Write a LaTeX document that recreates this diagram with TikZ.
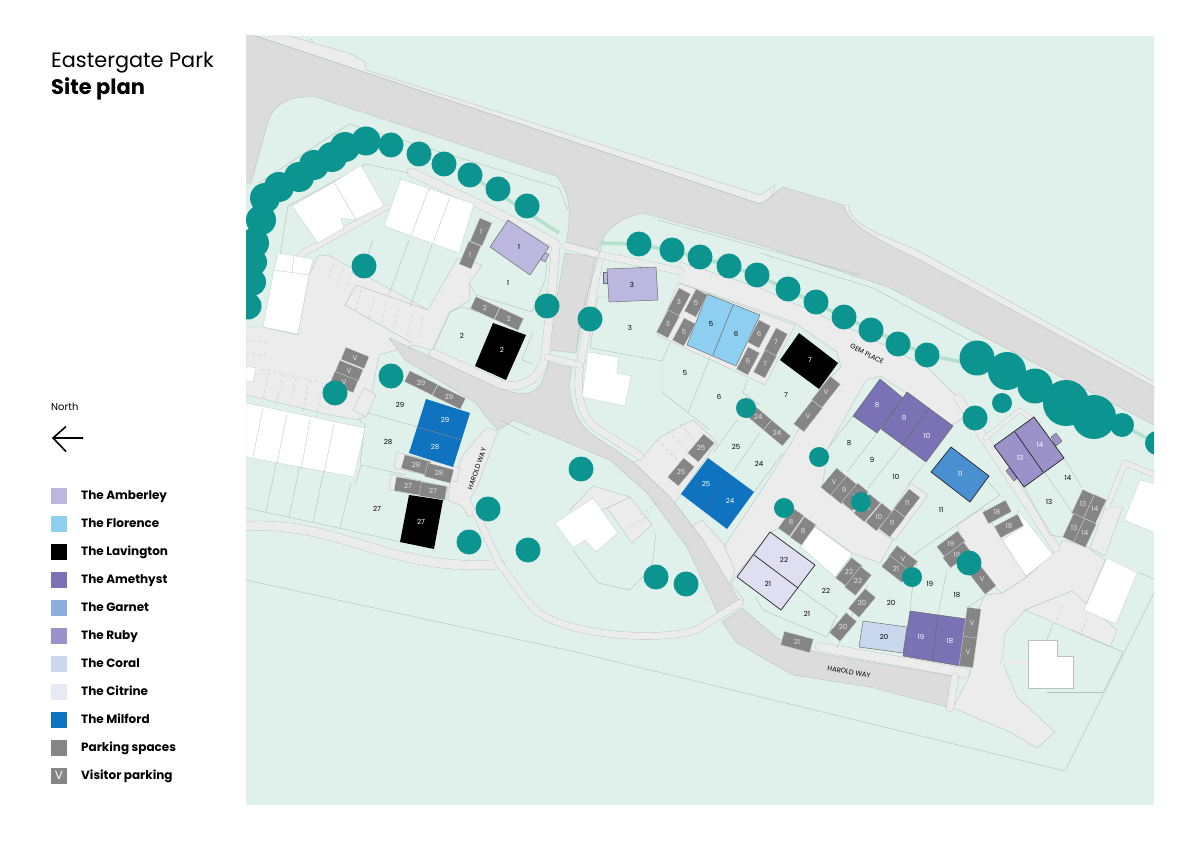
\documentclass[tikz,border=0pt]{standalone}
\usepackage{fontspec}
\setmainfont{Poppins}
\definecolor{mapg}{HTML}{E0F0EA}
\definecolor{pale}{HTML}{ECECEC}
\definecolor{roadg}{HTML}{DCDCDC}
\definecolor{edgeg}{HTML}{B6C2BD}
\definecolor{treeg}{HTML}{0C9490}
\definecolor{pathg}{HTML}{B5E0CF}
\definecolor{bayg}{HTML}{858585}
\definecolor{amber}{HTML}{BCB7DE}
\definecolor{flor}{HTML}{8ECFF1}
\definecolor{ameth}{HTML}{7B72B6}
\definecolor{garn}{HTML}{4A8FD0}
\definecolor{garnl}{HTML}{8CAEDC}
\definecolor{ruby}{HTML}{9A92C9}
\definecolor{coral}{HTML}{C9D8EF}
\definecolor{citr}{HTML}{E0DFF2}
\definecolor{citrl}{HTML}{E9E9F5}
\definecolor{milf}{HTML}{0F73BF}
\tikzset{
 x=1pt,y=-1pt,
 paved/.style={fill=pale,draw=edgeg,line width=.35pt,line join=round},
 road/.style={fill=roadg,draw=edgeg,line width=.35pt,line join=round},
 band/.style={double=pale,double distance=#1,draw=edgeg,line width=.35pt,line join=round,line cap=round},
 plotline/.style={draw=edgeg,line width=.45pt,line join=round},
 house/.style={fill=white,draw=edgeg,line width=.2pt,line join=round},
 unit/.style={draw=black!60,line width=.45pt,line join=round},
 unitdark/.style={draw=black!85,line width=.7pt,line join=round},
 tree/.style={fill=treeg},
 plotnum/.style={font=\fontsize{7}{8}\selectfont,text=black,inner sep=0pt},
 unitw/.style={font=\fontsize{7}{8}\selectfont,text=white,inner sep=0pt},
 baynum/.style={font=\fontsize{7}{8}\selectfont,text=white!90!black,inner sep=0pt},
 legendtxt/.style={font=\fontsize{12}{14}\selectfont\bfseries,anchor=base west,inner sep=0pt},
 roadname/.style={font=\fontsize{6.8}{8}\selectfont,text=black,inner sep=0pt},
 parkdash/.style={draw=edgeg,line width=.3pt,dashed},
}
\newcommand\bay[6]{%
 \fill[bayg,draw=white!70!bayg,line width=.3pt,shift={(#1,#2)},rotate=#3] (-#4/2,-#5/2) rectangle (#4/2,#5/2);
 \node[baynum] at (#1,#2) {#6};}
\newcommand\trees[1]{\foreach \tx/\ty/\tr in {#1}{\fill[tree] (\tx,\ty) circle (\tr);}}
\newcommand\nums[2]{\foreach \tx/\ty/\tn in {#2}{\node[#1] at (\tx,\ty) {\tn};}}
\newcommand\legend[3]{\fill[#1] (51,#2-8) rectangle (67,#2+8); \node[legendtxt] at (81,#2+4.4) {#3};}
\begin{document}
\begin{tikzpicture}
\useasboundingbox (0,0) rectangle (1191,842);
\fill[white] (0,0) rectangle (1191,842);
\begin{scope}
\clip (246,36) rectangle (1154,805);
\fill[mapg] (246,36) rectangle (1154,805);
% paved areas
\path[paved] (246,327) -- (263,327) -- (298,335) -- (309,275) -- (318,256) -- (328,255) -- (428,310) -- (449,273) -- (458,258) -- (482,265) -- (469,283) -- (470,300) -- (450,312) -- (432,350) -- (414,345) -- (379,355) -- (368,413) -- (359,420) -- (330,415) -- (246,395) -- cycle;
\path[paved] (678,283) -- (795,325) -- (765,385) -- (737,372) -- (657,335) -- cycle;
\path[paved] (680,262) -- (760,288) -- (860,333) -- (927,367) -- (955,395) -- (968,415) -- (952,425) -- (905,392) -- (880,376) -- (866,380) -- (828,448) -- (822,488) -- (877,530) -- (893,540) -- (880,563) -- (852,553) -- (800,515) -- (770,533) -- (740,570) -- (730,585) -- (725,545) -- (765,485) -- (790,445) -- (823,385) -- (841,367) -- (837,352) -- (793,322) -- (680,283) -- cycle;
\path[paved] (640,460) -- (660,437) -- (693,420) -- (717,442) -- (681,494) -- (673,505) -- (682,512) -- (690,527) -- (702,520) -- (723,543) -- (735,570) -- (730,583) -- (744,600) -- (735,608) -- (703,540) -- (670,497) -- (633,462) -- cycle;
\path[paved] (910,483) -- (928,495) -- (895,540) -- (880,530) -- cycle;
\path[paved] (1053,553) -- (1027,577) -- (1002,593) -- (985,595) -- (976,615) -- (970,675) -- (953,708) -- (1010,732) -- (1037,748) -- (1055,732) -- (1017,697) -- (1002,660) -- (1005,633) -- (1025,610) -- (1072,591) -- (1083,612) -- (1105,560) -- (1087,547) -- (1063,540) -- cycle;
\path[paved] (1025,610) -- (1072,591) -- (1117,630) -- (1110,647) -- cycle;
\path[paved] (1090,548) -- (1105,507) -- (1123,507) -- (1105,556) -- cycle;
\path[paved] (957,525) -- (983,508) -- (1002,540) -- (1027,577) -- (1002,593) -- (972,570) -- cycle;
\path[paved] (486,428) -- (498,431) -- (476,490) -- (470,498) -- (476,513) -- (468,517) -- (462,506) -- (448,500) -- (449,490) -- (453,470) -- (458,468) -- (463,455) -- cycle;
\path[paved] (397,452) -- (394,468) -- (457,482) -- (460,468) -- cycle;
\path[paved] (391,474) -- (389,490) -- (446,500) -- (448,487) -- cycle;
\path[paved] (607,508) -- (630,497) -- (652,525) -- (632,543) -- cycle;
\path[paved] (570,510) -- (593,486) -- (630,497) -- (607,508) -- (596,512) -- (570,530) -- cycle;
\path[paved] (353,410) -- (364,388) -- (376,395) -- (366,417) -- cycle;
% upper footway
\fill[pale,draw=edgeg,line width=.35pt,line join=round] (256,36) -- (760,204) .. controls (770,200) and (775,193) .. (775,185) -- (760,195) -- (366,70) -- (365,62) -- (349,53) -- (313,43) -- (290,36) -- cycle;
\fill[pale,draw=edgeg,line width=.35pt,line join=round] (843,205) -- (848,205) .. controls (852,222) and (862,228) .. (917,250) -- (1160,385) -- (1160,395) -- (920,262) .. controls (870,240) and (855,232) .. (843,205) -- cycle;
% roads
\path[road] (240,30) -- (256,36) -- (760,204) .. controls (768,200) and (775,193) .. (783,187) -- (843,205) .. controls (850,222) and (860,232) .. (920,260) -- (1160,390) -- (1160,428) -- (888,287) -- (760,245) -- (643,213) .. controls (620,218) and (605,228) .. (598,250) -- (566,242) .. controls (572,215) and (570,190) .. (556,176) -- (316,97) -- (306,97) .. controls (285,97) and (272,108) .. (268,122) -- (251,183) -- (240,183) -- cycle;
\path[road] (565,253) -- (595,257) -- (576,353) -- (547,350) -- cycle;
\path[road] (389,338) -- (486,382) .. controls (505,392) and (530,400) .. (540,385) .. controls (545,375) and (547,370) .. (548,362) -- (572,368) .. controls (565,395) and (575,420) .. (590,433) -- (633,462) -- (670,497) -- (703,540) -- (740,602) -- (720,618) -- (687,547) -- (647,493) -- (610,460) -- (576,446) -- (513,420) .. controls (508,425) and (502,428) .. (498,430) -- (486,417) -- (476,403) -- (405,360) -- cycle;
\path[road] (722,622) -- (742,608) -- (777,638) -- (818,653) -- (952,676) -- (947,707) -- (870,687) -- (793,675) -- (737,643) -- cycle;
% bands
\draw[band=8pt] (411,172) -- (479,204) -- (529,229) -- (556,244) .. controls (552,290) and (549,320) .. (545,357) .. controls (541,380) and (520,390) .. (500,384) -- (433,353);
\draw[band=9pt] (246,526) .. controls (290,524) and (320,532) .. (379,550) .. controls (420,562) and (460,568) .. (500,564);
\draw[band=6.5pt] (476,513) -- (499,563) .. controls (520,590) and (530,610) .. (546,617) .. controls (590,640) and (680,640) .. (700,628) -- (740,603);
\draw[band=7pt] (600,255) -- (584,345) .. controls (573,390) and (580,415) .. (596,428) -- (640,456);
\draw[band=6.5pt] (566,246) -- (600,255) -- (680,271);
\draw[band=6pt] (547,357) -- (580,365);
\draw[band=6pt] (300,255) -- (386,207);
\draw[band=8pt] (958,398) -- (1056,548);
\draw[band=4pt] (985,438) -- (1020,410) -- (1033,420);
\draw[band=5pt] (1107,507) -- (1125,463) -- (1160,477);
\draw[band=9pt] (820,647) -- (965,673);
\draw[band=7pt] (955,677) -- (950,708);
\draw[band=4pt] (1002,662) -- (1028,662);
% green tree path
\draw[pathg,line width=3.5pt] (470,175) -- (559,233);
\draw[pathg,line width=3.5pt] (602,243) -- (639,244) -- (700,257) -- (757,275) -- (844,317) -- (927,355) -- (977,365);
\draw[pathg,line width=3.5pt] (1122,425) -- (1160,445);
% plot lines
\foreach \p in {
 {(259,183) -- (349,124) -- (559,188) -- (568,210)},
 {(288,206) -- (366,164) -- (409,173)},
 {(288,206) -- (280,256)},
 {(373,240) -- (361,273)},{(409,240) -- (388,297)},{(432,245) -- (410,307)},
 {(246,508) -- (339,528) -- (401,542)},
 {(266,512) -- (281,440)},{(289,518) -- (305,440)},{(313,523) -- (329,445)},
 {(340,528) -- (351,483) -- (356,483) -- (361,465) -- (406,475)},
 {(368,413) -- (418,427)},
 {(359,417) -- (361,423) -- (365,423) -- (360,465)},
 {(469,283) -- (476,295) -- (532,312) -- (545,280) -- (547,262)},
 {(433,350) -- (450,312) -- (462,307) -- (478,312)},
 {(533,332) -- (522,360) -- (533,364)},
 {(246,580) -- (576,652) -- (1065,771) -- (1160,581)},
 {(610,297) -- (598,297) -- (590,348) -- (662,361) -- (670,343)},
 {(662,361) -- (662,392) -- (688,413) -- (710,357)},
 {(688,413) -- (710,430)},{(743,393) -- (747,380)},
 {(760,433) -- (733,472)},{(737,420) -- (713,453)},{(783,453) -- (754,492)},
 {(743,393) -- (760,405)},
 {(828,448) -- (853,416)},{(847,472) -- (877,433)},{(868,488) -- (902,445)},{(925,463) -- (908,485)},
 {(913,555) -- (1000,495) -- (988,482)},
 {(1064,458) -- (1082,488)},{(1045,473) -- (1072,512)},
 {(1024,487) -- (1050,535) -- (1062,537)},
 {(910,611) -- (914,573) -- (918,560)},{(938,615) -- (947,570)},
 {(755,597) -- (763,610) -- (827,637) -- (837,615)},
 {(798,588) -- (838,617)},
 {(868,585) -- (852,615) -- (837,648)},
 {(983,597) -- (968,607)},
 {(1123,652) -- (1072,630)},
 {(1103,692) -- (1047,692)},{(1047,640) -- (1053,623)},
 {(1138,572) -- (1160,582)},{(1123,652) -- (1103,692)},
 {(760,253) -- (873,288) -- (993,353)},{(658,220) -- (860,275)},
 {(603,240) -- (580,320) -- (576,353)},
 {(573,550) -- (598,583) -- (630,590) -- (652,567) -- (656,533)},
 {(311,39) -- (313,43)},
 {(500,420) -- (530,435)},
 {(356,285) -- (428,310)},{(345,305) -- (412,343)},{(356,285) -- (345,305)}}{\draw[plotline] \p;}
% dashed parking lines
\foreach \u/\v/\s/\t in {334/263/328/280,344/268/337/285,353/272/345/290,
 361/290/356/310,374/298/368/320,386/303/381/325,399/308/393/330,413/315/406/337,423/317/418/340,
 269/372/262/403,283/374/276/405,296/378/290/408,309/380/303/412,323/385/316/416,
 246/340/269/343,246/353/266/355,262/369/330/385,
 658/440/682/465,668/432/692/455,680/424/700/448,640/515/660/500,628/528/650/515,1062/606/1055/625,1087/618/1080/636}{\draw[parkdash] (\u,\v) -- (\s,\t);}
% white buildings
\path[house] (292,206) -- (334,182) -- (361,165) -- (384,206) -- (355,220) -- (341,218) -- (344,228) -- (318,243) -- cycle;
\draw[edgeg,line width=.35pt] (334,182) -- (356,220);
\path[house] (401,179) -- (474,204) -- (459,253) -- (384,226) -- cycle;
\draw[edgeg,line width=.35pt] (429,189) -- (411,235) (450,197) -- (433,243);
\path[house] (278,253) -- (313,259) -- (309,275) -- (298,334) -- (263,327) -- (274,270) -- cycle;
\draw[edgeg,line width=.35pt] (274,270) -- (309,275) (294,256) -- (292,272);
\path[house] (246,403) -- (365,428) -- (354,477) -- (246,457) -- cycle;
\draw[edgeg,line width=.35pt] (263,408) -- (253,457) (287,414) -- (277,464) (310,420) -- (301,470) (334,424) -- (324,473);
\path[house] (246,366) -- (256,368) -- (253,382) -- (246,381) -- cycle;
\path[house] (588,352) -- (618,357) -- (617,373) -- (631,376) -- (625,406) -- (582,397) -- cycle;
\path[house] (593,498) -- (618,533) -- (596,552) -- (585,540) -- (573,548) -- (555,523) -- cycle;
\path[house] (815,527) -- (852,554) -- (835,577) -- (800,546) -- cycle;
\path[house] (1018,510) -- (1053,555) -- (1026,576) -- (1002,540) -- (1022,527) -- cycle;
\path[house] (1107,558) -- (1137,573) -- (1116,624) -- (1084,610) -- cycle;
\path[house] (1140,480) -- (1160,485) -- (1160,535) -- (1124,520) -- cycle;
\path[house] (1028,640) -- (1057,640) -- (1057,656) -- (1073,656) -- (1073,688) -- (1028,688) -- cycle;
% coloured units
\filldraw[fill=amber,unit] (544,253) -- (549,254) -- (545,262) -- (541,260) -- cycle;
\filldraw[fill=amber,unit] (508,220) -- (549,247) -- (530,275) -- (490,247) -- cycle;
\filldraw[fill=amber,unit] (603,272) -- (607,272) -- (607,283) -- (603,283) -- cycle;
\filldraw[fill=amber,unit] (607,269) -- (656,267) -- (658,300) -- (609,302) -- cycle;
\filldraw[fill=flor,unit] (707,294) -- (760,315) -- (736,366) -- (687,345) -- cycle;
\draw[unit] (733,305) -- (713,355);
\fill[black] (493,323) -- (526,335) -- (506,380) -- (475,366) -- cycle;
\fill[black] (799,333) -- (838,363) -- (819,389) -- (780,360) -- cycle;
\fill[black] (409,495) -- (443,500) -- (434,549) -- (400,542) -- cycle;
\fill[milf] (426,399) -- (470,413) -- (453,467) -- (409,453) -- cycle;
\draw[black!45,line width=.4pt] (417,427) -- (462,440);
\fill[milf] (708,458) -- (754,492) -- (727,529) -- (681,494) -- cycle;
\draw[black!60,line width=.5pt,densely dotted] (730,475) -- (705,510);
\filldraw[fill=ameth,unit] (880,379) -- (903,398) -- (877,433) -- (853,416) -- cycle;
\filldraw[fill=ameth,unit] (907,392) -- (953,426) -- (926,462) -- (881,429) -- cycle;
\draw[unit] (929,409) -- (902,445);
\filldraw[fill=garn,unitdark] (951,447) -- (989,476) -- (970,502) -- (931,472) -- cycle;
\filldraw[fill=ruby,unit] (1051,437) -- (1056,433) -- (1062,441) -- (1056,446) -- cycle;
\filldraw[fill=ruby,unit] (1006,471) -- (1010,467) -- (1018,477) -- (1014,481) -- cycle;
\filldraw[fill=ruby,unitdark] (1034,417) -- (1064,458) -- (1024,487) -- (994,446) -- cycle;
\draw[unitdark] (1015,432) -- (1043,472);
\filldraw[fill=citr,unitdark] (770,532) -- (815,565) -- (781,610) -- (737,577) -- cycle;
\draw[unitdark] (754,555) -- (798,588);
\filldraw[fill=coral,unit] (863,621) -- (907,627) -- (903,653) -- (859,647) -- cycle;
\filldraw[fill=ameth,unit] (910,611) -- (967,619) -- (961,666) -- (903,656) -- cycle;
\draw[unit] (938,615) -- (932,661);
% parking bays
\bay{481}{232}{67}{25}{13}{1}
\bay{470}{255}{67}{25}{13}{1}
\bay{485}{308}{-25}{26}{13}{2}
\bay{509}{319}{-25}{26}{13}{2}
\bay{355}{358}{-22}{25}{13}{V}
\bay{349}{371}{-22}{25}{13}{V}
\bay{344}{382}{-22}{25}{13}{V}
\bay{421}{383}{-26}{31}{12}{29}
\bay{449}{397}{-26}{31}{12}{29}
\bay{416}{465}{-15}{27}{14}{28}
\bay{439}{473}{-15}{27}{14}{28}
\bay{408}{486}{-10}{26}{14}{27}
\bay{433}{491}{-10}{26}{14}{27}
\bay{679}{302}{62}{25}{13}{3}
\bay{668}{324}{62}{25}{13}{3}
\bay{696}{303}{62}{25}{13}{5}
\bay{684}{332}{62}{25}{13}{5}
\bay{759}{334}{62}{25}{13}{6}
\bay{748}{361}{62}{25}{13}{6}
\bay{776}{342}{62}{25}{13}{7}
\bay{765}{364}{62}{25}{13}{7}
\bay{826}{392}{52}{30}{13}{V}
\bay{808}{416}{52}{30}{13}{V}
\bay{758}{417}{-40}{25}{13}{24}
\bay{777}{433}{-40}{25}{13}{24}
\bay{701}{448}{50}{25}{14}{25}
\bay{681}{472}{50}{25}{14}{25}
\bay{791}{522}{55}{25}{14}{8}
\bay{803}{531}{55}{25}{14}{8}
\bay{834}{482}{50}{25}{14}{V}
\bay{844}{490}{50}{25}{14}{9}
\bay{855}{497}{50}{25}{14}{9}
\bay{867}{508}{50}{25}{14}{10}
\bay{879}{517}{50}{25}{14}{10}
\bay{907}{503}{52}{25}{14}{11}
\bay{892}{523}{52}{25}{14}{11}
\bay{997}{512}{28}{26}{13}{18}
\bay{1009}{526}{28}{26}{13}{18}
\bay{951}{544}{37}{26}{13}{19}
\bay{957}{555}{37}{26}{13}{19}
\bay{982}{579}{-52}{28}{14}{V}
\bay{903}{559}{-38}{26}{14}{V}
\bay{896}{569}{-38}{26}{14}{21}
\bay{849}{572}{52}{26}{14}{22}
\bay{858}{581}{52}{26}{14}{22}
\bay{862}{603}{50}{26}{14}{20}
\bay{843}{627}{50}{26}{14}{20}
\bay{797}{642}{-15}{30}{14}{21}
\bay{972}{623}{82}{30}{14}{V}
\bay{968}{652}{82}{30}{14}{V}
\bay{1083}{504}{65}{26}{13}{13}
\bay{1095}{509}{65}{26}{13}{14}
\bay{1074}{528}{65}{26}{13}{13}
\bay{1085}{533}{65}{26}{13}{14}
% trees
\trees{366/141/14.5,345/147/15,332/157/15,314/165/15,299/177/15,279/187/15,265/198/15,261/220/15,254/243/15,253/262/14,252/282/14,248/306/13.5,
391/145/12.5,419/154/12.5,444/164/12.5,470/175/12.5,498/189/12.5,527/206/12.5,364/266/12.5,547/306/12.5,391/376/12.5,335/393/12.5,488/509/12.5,469/542/12.5,528/550/12.5,
590/319/12.5,639/244/12.5,672/250/12.5,700/257/12.5,729/266/12.5,757/275/12.5,788/289/12.5,816/302/12.5,844/317/12.5,871/330/12.5,898/344/12.5,927/355/12.5,
977/358/17.5,1007/371/19,1035/386/17.5,1066/403/23,1094/417/22,1122/425/12,1157/443/12,1002/403/10,975/418/12.5,
746/408/10,581/469/12.5,656/577/12.5,686/584/12.5,819/457/10,784/508/10,861/502/10,912/577/10,969/563/12.5}
\end{scope}
% plot numbers
\nums{plotnum}{508/283/1,462/336/2,400/405/29,388/442/28,377/509/27,630/328/3,685/373/5,719/397/6,786/395/7,849/443/8,872/460/9,896/477/10,941/510/11,736/447/25,759/464/24,826/591/22,807/614/21,891/603/20,930/584/19,957/595/18,1049/502/13,1068/478/14,519/247/1,632/285/3,711/324/5,736/334/6,784/560/22,768/584/21,884/637/20}
\nums{unitw}{502/350/2,810/360/7,421/522/27,445/420/29,435/447/28,706/484/25,730/501/24,877/405/8,904/418/9,927/436/10,960/474/11,1020/458/13,1040/445/14,921/637/19,950/641/18}
\node[roadname,rotate=-27] at (867,354) {GEM PLACE};
\node[roadname,rotate=-10] at (849,672) {HAROLD WAY};
\node[roadname,rotate=71] at (477,469) {HAROLD WAY};
% title
\node[anchor=base west,inner sep=0pt,font=\fontsize{20.8}{24}\selectfont] at (51,68) {Eastergate Park};
\node[anchor=base west,inner sep=0pt,font=\fontsize{21}{24}\selectfont\bfseries] at (51,95) {Site plan};
% north arrow
\node[anchor=base west,inner sep=0pt,font=\fontsize{10}{12}\selectfont] at (51,410) {North};
\draw[black,line width=1.6pt,line join=miter] (83,438) -- (53,438) (66,426.5) -- (53,438) -- (66,451.5);
% legend
\legend{amber}{495.5}{The Amberley}
\legend{flor}{523.5}{The Florence}
\legend{black}{551.5}{The Lavington}
\legend{ameth}{579.5}{The Amethyst}
\legend{garnl}{607.5}{The Garnet}
\legend{ruby}{635.5}{The Ruby}
\legend{coral}{663.5}{The Coral}
\legend{citrl}{691.5}{The Citrine}
\legend{milf}{719.5}{The Milford}
\legend{bayg}{747.5}{Parking spaces}
\legend{bayg}{775.5}{Visitor parking}
\node[text=white,font=\fontsize{12}{12}\selectfont,inner sep=0pt] at (59,775.5) {V};
\end{tikzpicture}
\end{document}
